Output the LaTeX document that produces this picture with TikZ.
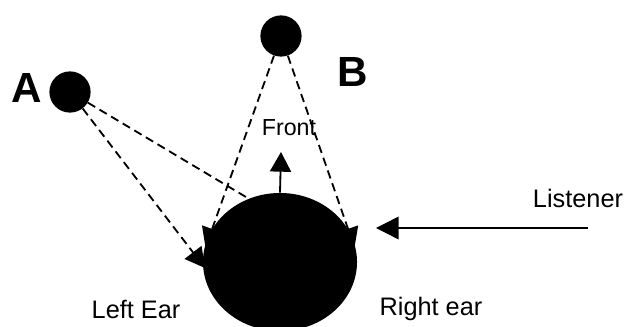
\documentclass[tikz,border=0pt]{standalone}
\usepackage{fontspec}
\setmainfont{Liberation Sans}
\usetikzlibrary{arrows.meta,shapes.geometric}

\tikzset{
  ball/.style={circle,fill=black,minimum size=1.03cm,inner sep=0pt},
  head/.style={ellipse,fill=black,minimum width=3.85cm,minimum height=3.45cm,inner sep=0pt},
  ray/.style={line width=1.3pt,dash pattern=on 6pt off 3.6pt},
  tip/.style={-{Triangle[length=14pt,width=15pt]}},
  lbl/.style={font=\fontsize{18}{21}\selectfont},
  big/.style={font=\fontsize{30}{33}\selectfont\bfseries}
}

\begin{document}
\begin{tikzpicture}[x=0.025cm,y=-0.025cm]
  \useasboundingbox (0,0) rectangle (627,327);

  % sources and listener
  \node[ball] (srcA) at (70,92) {};
  \node[ball] (srcB) at (281,36) {};
  \node[head] (head) at (280,262) {};

  % Fixed coordinates
  \coordinate (earL) at (205.5,247.5);
  \coordinate (earR) at (354.5,247.5);
  \coordinate (earLlow) at (205,268);
  \coordinate (hitA) at (256,203);
  \coordinate (frontTip) at (281,152);
  \coordinate (lisStart) at (588,228);
  \coordinate (lisTip) at (376,228);

  % dashed paths to the ears
  \draw[ray,tip] (srcA) -- (earLlow);
  \draw[ray] (srcA) -- (hitA);
  \draw[ray,tip] (srcB) -- (earL);
  \draw[ray,tip] (srcB) -- (earR);

  % arrows
  \draw[line width=1.3pt,tip] (head.north) -- (frontTip);
  \draw[line width=1pt,-{Triangle[length=16pt,width=16pt]}] (lisStart) -- (lisTip);

  % labels
  \node[big] (labA) at (27,88) {A};
  \node[big] (labB) at (353,72) {B};
  \node[lbl,font=\fontsize{16.5}{19}\selectfont] (front) at (289,128) {Front};
  \node[lbl] (listener) at (578,198) {Listener};
  \node[lbl] (leftear) at (136,309) {Left Ear};
  \node[lbl] (rightear) at (431,309) {Right ear};
\end{tikzpicture}
\end{document}
